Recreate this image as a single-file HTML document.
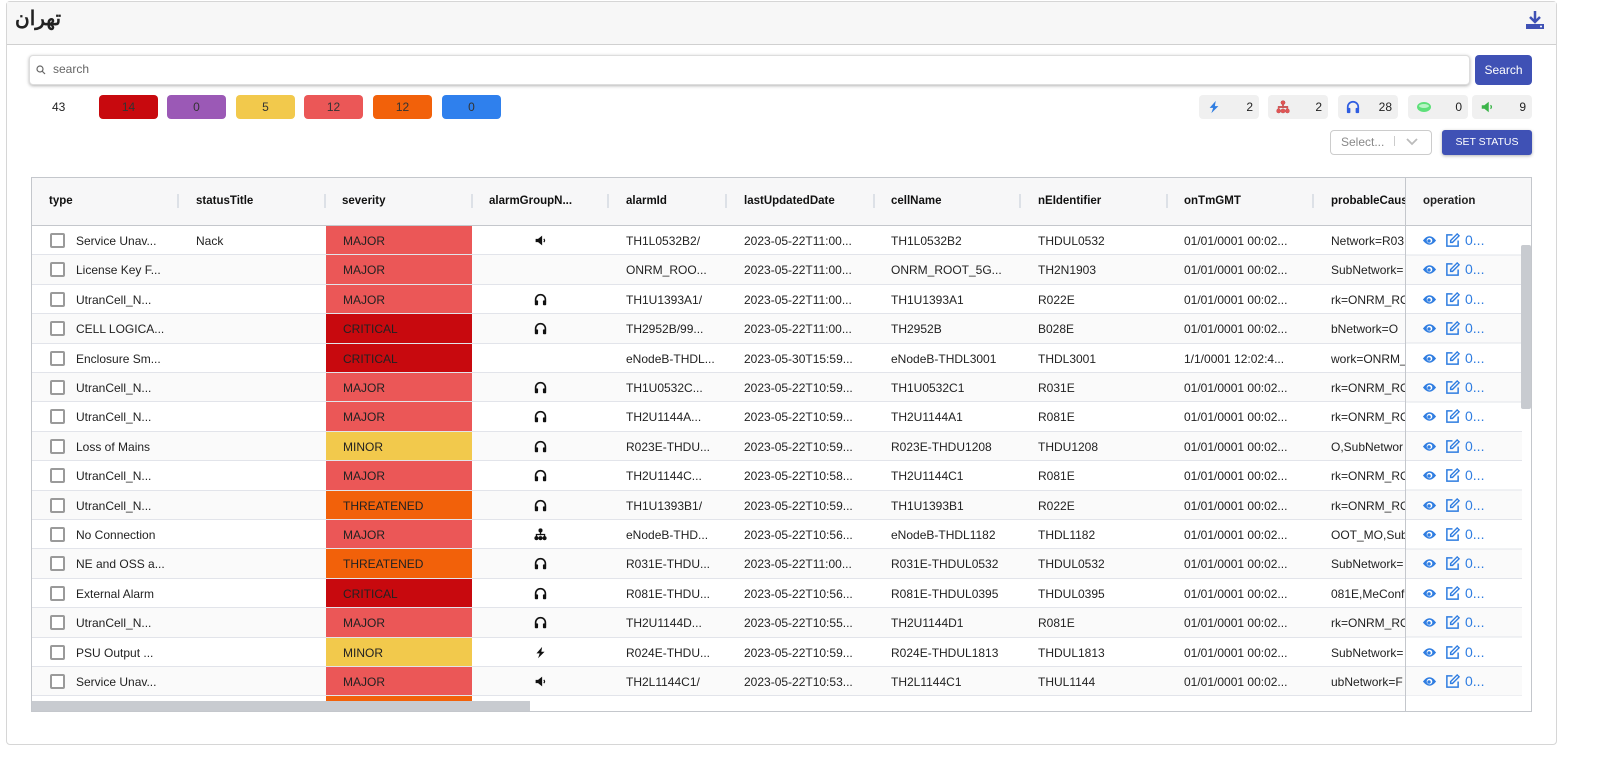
<!DOCTYPE html>
<html><head><meta charset="utf-8">
<style>
*{box-sizing:border-box;margin:0;padding:0}
body{width:1602px;height:764px;background:#fff;font-family:"Liberation Sans",sans-serif;font-size:12px;color:#222;position:relative;overflow:hidden}
.abs{position:absolute}
.card{left:6px;top:1px;width:1551px;height:744px;border:1px solid #d6d6d6;border-radius:4px;background:#fff}
.hdr{left:7px;top:2px;width:1549px;height:43px;background:#f7f7f7;border-bottom:1px solid #d0d0d0}
.badge{top:95px;height:24px;width:59px;border-radius:4px;text-align:center;line-height:24px;font-size:12px;color:#333}
.ib{top:95px;height:24px;width:60px;border-radius:4px;background:#f0f0f0;font-size:12px;line-height:24px}
.ib span{position:absolute;right:6px}
.ib svg{position:absolute;left:8px;top:5px}
.tbl{left:31px;top:177px;width:1501px;height:535px;border:1px solid #c4c7cc;overflow:hidden;background:#fff}
.th{position:absolute;top:0;height:48px;width:100%;background:#f7f7f8;border-bottom:1px solid #c4c7cc}
.th div{position:absolute;top:17px;font-weight:bold;font-size:11.5px;color:#111}
.sep{position:absolute;top:16px;width:2px;height:14px;background:#dde1e7}
.row{position:absolute;left:0;width:1490px;height:29.4px;border-bottom:1px solid #e2e4ea}
.row div{position:absolute;top:8px;white-space:nowrap;font-size:12px}
.row .sev{top:0;height:28.4px;left:294px;width:146px;padding:8px 0 0 17px}
.cb{position:absolute;left:18px;top:7px!important;width:15px;height:15px;border:2px solid #9a9a9a;border-radius:2px;background:#fff}
.op{position:absolute;left:1373px;top:0;width:127px;height:535px;border-left:1px solid #c4c7cc}
</style></head><body>
<svg width="0" height="0" style="position:absolute">
<defs>
<symbol id="hp" viewBox="0 0 16 16"><path d="M2 10V8a6 6 0 0 1 12 0v2" fill="none" stroke="#111" stroke-width="2"/><rect x="1" y="9" width="4" height="6" rx="1" fill="#111"/><rect x="11" y="9" width="4" height="6" rx="1" fill="#111"/></symbol>
<symbol id="sp" viewBox="0 0 16 16"><path d="M2 6h3l5-4v12l-5-4H2z" fill="#111"/><path d="M12 6q2 2 0 4" stroke="#111" fill="none" stroke-width="1.5"/></symbol>
<symbol id="nw" viewBox="0 0 16 16"><circle cx="8" cy="3" r="2.5" fill="#111"/><path d="M8 5v4M3 11V8h10v3" stroke="#111" stroke-width="1.6" fill="none"/><circle cx="3" cy="12.5" r="2.5" fill="#111"/><circle cx="8" cy="12.5" r="2.5" fill="#111"/><circle cx="13" cy="12.5" r="2.5" fill="#111"/></symbol>
<symbol id="bt" viewBox="0 0 16 16"><path d="M10 1L3 9h4l-2 6 8-8H9z" fill="#111"/></symbol>
<symbol id="eye" viewBox="0 0 16 16"><path d="M1 8q7-9 14 0q-7 9-14 0z" fill="#2f7de1"/><circle cx="8" cy="8" r="3" fill="#fff"/><circle cx="7.5" cy="8.5" r="1.8" fill="#2f7de1"/></symbol>
<symbol id="ed" viewBox="0 0 16 16"><path d="M8 2H2v12h12V8" fill="none" stroke="#2f7de1" stroke-width="1.6"/><path d="M13 1l2 2-7 7H6V8z" fill="none" stroke="#2f7de1" stroke-width="1.5"/></symbol>
</defs></svg>

<div class="abs card"></div>
<div class="abs hdr"></div>
<div class="abs" style="left:15px;top:6px;font-size:20px;font-weight:bold;font-family:'Liberation Sans','Noto Sans CJK SC',sans-serif">تهران</div>
<svg class="abs" style="left:1525px;top:10px" width="20" height="20" viewBox="0 0 20 20"><path d="M10 1v10M5 7l5 5 5-5" stroke="#3f51b5" stroke-width="2.5" fill="none"/><rect x="1" y="14" width="18" height="5" fill="#3f51b5"/><circle cx="16" cy="16.5" r="1" fill="#fff"/></svg>

<div class="abs" style="left:29px;top:55px;width:1441px;height:30px;border:1px solid #ddd;border-radius:4px;box-shadow:0 1px 3px rgba(0,0,0,.3);background:#fff"></div>
<svg class="abs" style="left:36px;top:65px" width="10" height="10" viewBox="0 0 10 10"><circle cx="4" cy="4" r="3" stroke="#666" fill="none" stroke-width="1.2"/><path d="M6 6l3 3" stroke="#666" stroke-width="1.2"/></svg>
<div class="abs" style="left:53px;top:62px;color:#666;font-size:12px">search</div>
<div class="abs" style="left:1475px;top:55px;width:57px;height:30px;background:#3f51b5;border-radius:4px;color:#fff;text-align:center;line-height:30px;font-size:12px">Search</div>

<div class="abs" style="left:52px;top:100px;font-size:12px">43</div>
<div class="abs badge" style="left:99px;background:#c8090e">14</div>
<div class="abs badge" style="left:167px;background:#9b59b6">0</div>
<div class="abs badge" style="left:236px;background:#f2c94c">5</div>
<div class="abs badge" style="left:304px;background:#eb5757">12</div>
<div class="abs badge" style="left:373px;background:#f2610a">12</div>
<div class="abs badge" style="left:442px;background:#2f80ed">0</div>

<div class="abs ib" style="left:1199px"><svg width="14" height="14" viewBox="0 0 16 16"><path d="M10 1L3 9h4l-2 6 8-8H9z" fill="#2f7de1"/></svg><span>2</span></div>
<div class="abs ib" style="left:1268px"><svg width="14" height="14" viewBox="0 0 16 16"><use href="#nw" style="fill:#e05555"/><circle cx="8" cy="3" r="2.5" fill="#e05555"/><path d="M8 5v4M3 11V8h10v3" stroke="#e05555" stroke-width="1.6" fill="none"/><circle cx="3" cy="12.5" r="2.5" fill="#e05555"/><circle cx="8" cy="12.5" r="2.5" fill="#e05555"/><circle cx="13" cy="12.5" r="2.5" fill="#e05555"/></svg><span>2</span></div>
<div class="abs ib" style="left:1338px"><svg width="14" height="14" viewBox="0 0 16 16"><path d="M2 10V8a6 6 0 0 1 12 0v2" fill="none" stroke="#2f5de1" stroke-width="2"/><rect x="1" y="9" width="4" height="6" rx="1" fill="#2f5de1"/><rect x="11" y="9" width="4" height="6" rx="1" fill="#2f5de1"/></svg><span>28</span></div>
<div class="abs ib" style="left:1408px"><svg width="16" height="14" viewBox="0 0 16 14"><ellipse cx="8" cy="7" rx="7" ry="5" fill="#5ee07a"/><ellipse cx="8" cy="6" rx="5" ry="2" fill="#b8f5c5"/></svg><span>0</span></div>
<div class="abs ib" style="left:1472px"><svg width="14" height="14" viewBox="0 0 16 16"><path d="M2 6h3l5-4v12l-5-4H2z" fill="#3cb54a"/><path d="M12 6q2 2 0 4" stroke="#3cb54a" fill="none" stroke-width="1.5"/></svg><span>9</span></div>

<div class="abs" style="left:1330px;top:130px;width:102px;height:25px;border:1px solid #ccc;border-radius:4px;background:#fff"></div>
<div class="abs" style="left:1341px;top:135px;color:#888;font-size:12px">Select...</div>
<div class="abs" style="left:1394px;top:136px;width:1px;height:10px;background:#ccc"></div>
<svg class="abs" style="left:1405px;top:137px" width="14" height="10"><path d="M2 2l5 5 5-5" stroke="#bbb" stroke-width="1.8" fill="none"/></svg>
<div class="abs" style="left:1442px;top:130px;width:90px;height:25px;background:#3f51b5;border-radius:3px;color:#fff;text-align:center;line-height:25px;font-size:10.5px;box-shadow:0 1px 3px rgba(0,0,0,.3)">SET STATUS</div>

<div class="abs tbl">
 <div class="th">
  <div style="left:17px">type</div><span class="sep" style="left:145px"></span>
  <div style="left:164px">statusTitle</div><span class="sep" style="left:292px"></span>
  <div style="left:310px">severity</div><span class="sep" style="left:439px"></span>
  <div style="left:457px">alarmGroupN...</div><span class="sep" style="left:575px"></span>
  <div style="left:594px">alarmId</div><span class="sep" style="left:693px"></span>
  <div style="left:712px">lastUpdatedDate</div><span class="sep" style="left:841px"></span>
  <div style="left:859px">cellName</div><span class="sep" style="left:987px"></span>
  <div style="left:1006px">nEIdentifier</div><span class="sep" style="left:1134px"></span>
  <div style="left:1152px">onTmGMT</div><span class="sep" style="left:1280px"></span>
  <div style="left:1299px">probableCaus</div>
 </div>
 <div id="rows">
<div class="row" style="top:48px;background:#fff"><span class="cb"></span><div style="left:44px">Service Unav...</div><div style="left:164px">Nack</div><div class="sev" style="background:#eb5757">MAJOR</div><svg style="position:absolute;left:502px;top:8px" width="13" height="13"><use href="#sp"/></svg><div style="left:594px">TH1L0532B2/</div><div style="left:712px">2023-05-22T11:00...</div><div style="left:859px">TH1L0532B2</div><div style="left:1006px">THDUL0532</div><div style="left:1152px">01/01/0001 00:02...</div><div style="left:1299px">Network=R03</div></div>
<div class="row" style="top:77.4px;background:#fafafa"><span class="cb"></span><div style="left:44px">License Key F...</div><div class="sev" style="background:#eb5757">MAJOR</div><div style="left:594px">ONRM_ROO...</div><div style="left:712px">2023-05-22T11:00...</div><div style="left:859px">ONRM_ROOT_5G...</div><div style="left:1006px">TH2N1903</div><div style="left:1152px">01/01/0001 00:02...</div><div style="left:1299px">SubNetwork=</div></div>
<div class="row" style="top:106.8px;background:#fff"><span class="cb"></span><div style="left:44px">UtranCell_N...</div><div class="sev" style="background:#eb5757">MAJOR</div><svg style="position:absolute;left:502px;top:8px" width="13" height="13"><use href="#hp"/></svg><div style="left:594px">TH1U1393A1/</div><div style="left:712px">2023-05-22T11:00...</div><div style="left:859px">TH1U1393A1</div><div style="left:1006px">R022E</div><div style="left:1152px">01/01/0001 00:02...</div><div style="left:1299px">rk=ONRM_RO</div></div>
<div class="row" style="top:136.2px;background:#fafafa"><span class="cb"></span><div style="left:44px">CELL LOGICA...</div><div class="sev" style="background:#c8090e">CRITICAL</div><svg style="position:absolute;left:502px;top:8px" width="13" height="13"><use href="#hp"/></svg><div style="left:594px">TH2952B/99...</div><div style="left:712px">2023-05-22T11:00...</div><div style="left:859px">TH2952B</div><div style="left:1006px">B028E</div><div style="left:1152px">01/01/0001 00:02...</div><div style="left:1299px">bNetwork=O</div></div>
<div class="row" style="top:165.6px;background:#fff"><span class="cb"></span><div style="left:44px">Enclosure Sm...</div><div class="sev" style="background:#c8090e">CRITICAL</div><div style="left:594px">eNodeB-THDL...</div><div style="left:712px">2023-05-30T15:59...</div><div style="left:859px">eNodeB-THDL3001</div><div style="left:1006px">THDL3001</div><div style="left:1152px">1/1/0001 12:02:4...</div><div style="left:1299px">work=ONRM_</div></div>
<div class="row" style="top:195px;background:#fafafa"><span class="cb"></span><div style="left:44px">UtranCell_N...</div><div class="sev" style="background:#eb5757">MAJOR</div><svg style="position:absolute;left:502px;top:8px" width="13" height="13"><use href="#hp"/></svg><div style="left:594px">TH1U0532C...</div><div style="left:712px">2023-05-22T10:59...</div><div style="left:859px">TH1U0532C1</div><div style="left:1006px">R031E</div><div style="left:1152px">01/01/0001 00:02...</div><div style="left:1299px">rk=ONRM_RO</div></div>
<div class="row" style="top:224.4px;background:#fff"><span class="cb"></span><div style="left:44px">UtranCell_N...</div><div class="sev" style="background:#eb5757">MAJOR</div><svg style="position:absolute;left:502px;top:8px" width="13" height="13"><use href="#hp"/></svg><div style="left:594px">TH2U1144A...</div><div style="left:712px">2023-05-22T10:59...</div><div style="left:859px">TH2U1144A1</div><div style="left:1006px">R081E</div><div style="left:1152px">01/01/0001 00:02...</div><div style="left:1299px">rk=ONRM_RO</div></div>
<div class="row" style="top:253.8px;background:#fafafa"><span class="cb"></span><div style="left:44px">Loss of Mains</div><div class="sev" style="background:#f2c94c">MINOR</div><svg style="position:absolute;left:502px;top:8px" width="13" height="13"><use href="#hp"/></svg><div style="left:594px">R023E-THDU...</div><div style="left:712px">2023-05-22T10:59...</div><div style="left:859px">R023E-THDU1208</div><div style="left:1006px">THDU1208</div><div style="left:1152px">01/01/0001 00:02...</div><div style="left:1299px">O,SubNetwor</div></div>
<div class="row" style="top:283.2px;background:#fff"><span class="cb"></span><div style="left:44px">UtranCell_N...</div><div class="sev" style="background:#eb5757">MAJOR</div><svg style="position:absolute;left:502px;top:8px" width="13" height="13"><use href="#hp"/></svg><div style="left:594px">TH2U1144C...</div><div style="left:712px">2023-05-22T10:58...</div><div style="left:859px">TH2U1144C1</div><div style="left:1006px">R081E</div><div style="left:1152px">01/01/0001 00:02...</div><div style="left:1299px">rk=ONRM_RO</div></div>
<div class="row" style="top:312.6px;background:#fafafa"><span class="cb"></span><div style="left:44px">UtranCell_N...</div><div class="sev" style="background:#f2610a">THREATENED</div><svg style="position:absolute;left:502px;top:8px" width="13" height="13"><use href="#hp"/></svg><div style="left:594px">TH1U1393B1/</div><div style="left:712px">2023-05-22T10:59...</div><div style="left:859px">TH1U1393B1</div><div style="left:1006px">R022E</div><div style="left:1152px">01/01/0001 00:02...</div><div style="left:1299px">rk=ONRM_RO</div></div>
<div class="row" style="top:342px;background:#fff"><span class="cb"></span><div style="left:44px">No Connection</div><div class="sev" style="background:#eb5757">MAJOR</div><svg style="position:absolute;left:502px;top:8px" width="13" height="13"><use href="#nw"/></svg><div style="left:594px">eNodeB-THD...</div><div style="left:712px">2023-05-22T10:56...</div><div style="left:859px">eNodeB-THDL1182</div><div style="left:1006px">THDL1182</div><div style="left:1152px">01/01/0001 00:02...</div><div style="left:1299px">OOT_MO,Sub</div></div>
<div class="row" style="top:371.4px;background:#fafafa"><span class="cb"></span><div style="left:44px">NE and OSS a...</div><div class="sev" style="background:#f2610a">THREATENED</div><svg style="position:absolute;left:502px;top:8px" width="13" height="13"><use href="#hp"/></svg><div style="left:594px">R031E-THDU...</div><div style="left:712px">2023-05-22T11:00...</div><div style="left:859px">R031E-THDUL0532</div><div style="left:1006px">THDUL0532</div><div style="left:1152px">01/01/0001 00:02...</div><div style="left:1299px">SubNetwork=</div></div>
<div class="row" style="top:400.8px;background:#fff"><span class="cb"></span><div style="left:44px">External Alarm</div><div class="sev" style="background:#c8090e">CRITICAL</div><svg style="position:absolute;left:502px;top:8px" width="13" height="13"><use href="#hp"/></svg><div style="left:594px">R081E-THDU...</div><div style="left:712px">2023-05-22T10:56...</div><div style="left:859px">R081E-THDUL0395</div><div style="left:1006px">THDUL0395</div><div style="left:1152px">01/01/0001 00:02...</div><div style="left:1299px">081E,MeConf</div></div>
<div class="row" style="top:430.2px;background:#fafafa"><span class="cb"></span><div style="left:44px">UtranCell_N...</div><div class="sev" style="background:#eb5757">MAJOR</div><svg style="position:absolute;left:502px;top:8px" width="13" height="13"><use href="#hp"/></svg><div style="left:594px">TH2U1144D...</div><div style="left:712px">2023-05-22T10:55...</div><div style="left:859px">TH2U1144D1</div><div style="left:1006px">R081E</div><div style="left:1152px">01/01/0001 00:02...</div><div style="left:1299px">rk=ONRM_RO</div></div>
<div class="row" style="top:459.6px;background:#fff"><span class="cb"></span><div style="left:44px">PSU Output ...</div><div class="sev" style="background:#f2c94c">MINOR</div><svg style="position:absolute;left:502px;top:8px" width="13" height="13"><use href="#bt"/></svg><div style="left:594px">R024E-THDU...</div><div style="left:712px">2023-05-22T10:59...</div><div style="left:859px">R024E-THDUL1813</div><div style="left:1006px">THDUL1813</div><div style="left:1152px">01/01/0001 00:02...</div><div style="left:1299px">SubNetwork=</div></div>
<div class="row" style="top:489px;background:#fafafa"><span class="cb"></span><div style="left:44px">Service Unav...</div><div class="sev" style="background:#eb5757">MAJOR</div><svg style="position:absolute;left:502px;top:8px" width="13" height="13"><use href="#sp"/></svg><div style="left:594px">TH2L1144C1/</div><div style="left:712px">2023-05-22T10:53...</div><div style="left:859px">TH2L1144C1</div><div style="left:1006px">THUL1144</div><div style="left:1152px">01/01/0001 00:02...</div><div style="left:1299px">ubNetwork=F</div></div>
<div class="row" style="top:518.4px;background:#fff;border:none"><div class="sev" style="background:#f2610a"></div></div>
 </div>
 <div class="op">
  <div style="position:absolute;left:0;top:0;width:127px;height:48px;background:#f7f7f8;border-bottom:1px solid #c4c7cc"></div>
  <div style="position:absolute;left:17px;top:17px;font-weight:bold;font-size:11.5px">operation</div>
  <div style="position:absolute;left:0;top:48px;width:116px;height:470px;background:repeating-linear-gradient(#fff 0,#fff 28.4px,#e2e4ea 28.4px,#e2e4ea 29.4px,#fafafa 29.4px,#fafafa 57.8px,#e2e4ea 57.8px,#e2e4ea 58.8px)"></div>
 </div>
 <div id="ops"></div>
 <div style="position:absolute;left:0;top:523px;width:498px;height:10px;background:#c8cbd0"></div>
 <div style="position:absolute;left:1489px;top:67px;width:10px;height:164px;background:#c8cbd0;border-radius:2px"></div>
</div>
<div class="abs" style="left:1422px;top:232px;width:80px;height:470px">
 <div style="position:absolute;top:0"><svg width="15" height="15"><use href="#eye"/></svg><svg width="15" height="15" style="margin-left:8px"><use href="#ed"/></svg><span style="color:#2f7de1;font-size:14px;margin-left:5px;vertical-align:3px">0...</span></div>
 <div style="position:absolute;top:29.4px"><svg width="15" height="15"><use href="#eye"/></svg><svg width="15" height="15" style="margin-left:8px"><use href="#ed"/></svg><span style="color:#2f7de1;font-size:14px;margin-left:5px;vertical-align:3px">0...</span></div>
 <div style="position:absolute;top:58.8px"><svg width="15" height="15"><use href="#eye"/></svg><svg width="15" height="15" style="margin-left:8px"><use href="#ed"/></svg><span style="color:#2f7de1;font-size:14px;margin-left:5px;vertical-align:3px">0...</span></div>
 <div style="position:absolute;top:88.2px"><svg width="15" height="15"><use href="#eye"/></svg><svg width="15" height="15" style="margin-left:8px"><use href="#ed"/></svg><span style="color:#2f7de1;font-size:14px;margin-left:5px;vertical-align:3px">0...</span></div>
 <div style="position:absolute;top:117.6px"><svg width="15" height="15"><use href="#eye"/></svg><svg width="15" height="15" style="margin-left:8px"><use href="#ed"/></svg><span style="color:#2f7de1;font-size:14px;margin-left:5px;vertical-align:3px">0...</span></div>
 <div style="position:absolute;top:147px"><svg width="15" height="15"><use href="#eye"/></svg><svg width="15" height="15" style="margin-left:8px"><use href="#ed"/></svg><span style="color:#2f7de1;font-size:14px;margin-left:5px;vertical-align:3px">0...</span></div>
 <div style="position:absolute;top:176.4px"><svg width="15" height="15"><use href="#eye"/></svg><svg width="15" height="15" style="margin-left:8px"><use href="#ed"/></svg><span style="color:#2f7de1;font-size:14px;margin-left:5px;vertical-align:3px">0...</span></div>
 <div style="position:absolute;top:205.8px"><svg width="15" height="15"><use href="#eye"/></svg><svg width="15" height="15" style="margin-left:8px"><use href="#ed"/></svg><span style="color:#2f7de1;font-size:14px;margin-left:5px;vertical-align:3px">0...</span></div>
 <div style="position:absolute;top:235.2px"><svg width="15" height="15"><use href="#eye"/></svg><svg width="15" height="15" style="margin-left:8px"><use href="#ed"/></svg><span style="color:#2f7de1;font-size:14px;margin-left:5px;vertical-align:3px">0...</span></div>
 <div style="position:absolute;top:264.6px"><svg width="15" height="15"><use href="#eye"/></svg><svg width="15" height="15" style="margin-left:8px"><use href="#ed"/></svg><span style="color:#2f7de1;font-size:14px;margin-left:5px;vertical-align:3px">0...</span></div>
 <div style="position:absolute;top:294px"><svg width="15" height="15"><use href="#eye"/></svg><svg width="15" height="15" style="margin-left:8px"><use href="#ed"/></svg><span style="color:#2f7de1;font-size:14px;margin-left:5px;vertical-align:3px">0...</span></div>
 <div style="position:absolute;top:323.4px"><svg width="15" height="15"><use href="#eye"/></svg><svg width="15" height="15" style="margin-left:8px"><use href="#ed"/></svg><span style="color:#2f7de1;font-size:14px;margin-left:5px;vertical-align:3px">0...</span></div>
 <div style="position:absolute;top:352.8px"><svg width="15" height="15"><use href="#eye"/></svg><svg width="15" height="15" style="margin-left:8px"><use href="#ed"/></svg><span style="color:#2f7de1;font-size:14px;margin-left:5px;vertical-align:3px">0...</span></div>
 <div style="position:absolute;top:382.2px"><svg width="15" height="15"><use href="#eye"/></svg><svg width="15" height="15" style="margin-left:8px"><use href="#ed"/></svg><span style="color:#2f7de1;font-size:14px;margin-left:5px;vertical-align:3px">0...</span></div>
 <div style="position:absolute;top:411.6px"><svg width="15" height="15"><use href="#eye"/></svg><svg width="15" height="15" style="margin-left:8px"><use href="#ed"/></svg><span style="color:#2f7de1;font-size:14px;margin-left:5px;vertical-align:3px">0...</span></div>
 <div style="position:absolute;top:441px"><svg width="15" height="15"><use href="#eye"/></svg><svg width="15" height="15" style="margin-left:8px"><use href="#ed"/></svg><span style="color:#2f7de1;font-size:14px;margin-left:5px;vertical-align:3px">0...</span></div>
</div>
</body></html>
